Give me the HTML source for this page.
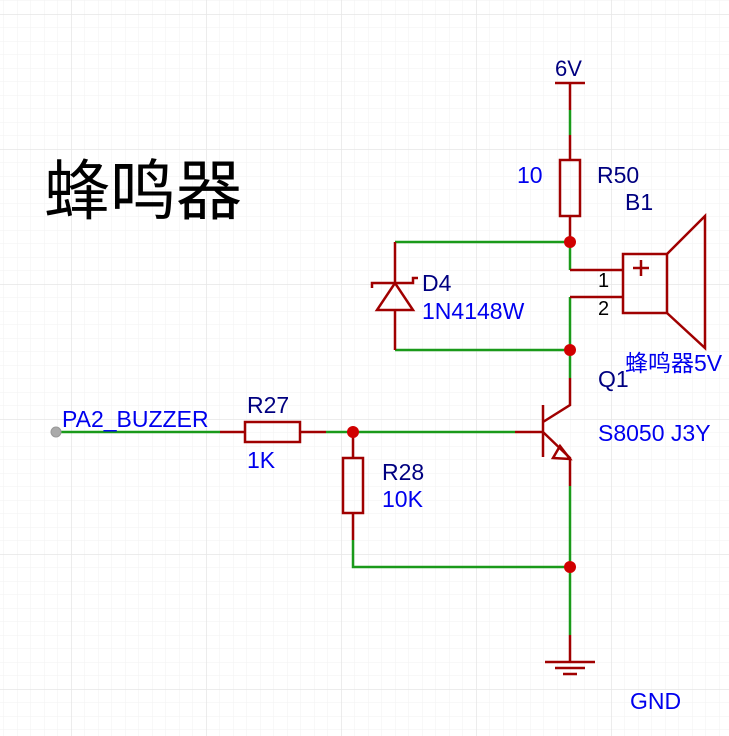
<!DOCTYPE html>
<html><head><meta charset="utf-8"><style>
html,body{margin:0;padding:0;background:#fff;}
svg{display:block}
text{font-family:"Liberation Sans","Noto Sans CJK SC",sans-serif;}
</style></head><body>
<svg width="729" height="736" viewBox="0 0 729 736" xmlns="http://www.w3.org/2000/svg">
<defs>
<pattern id="mi" x="3.5" y="0.5" width="13.5" height="13.5" patternUnits="userSpaceOnUse">
<path d="M0 0H13.5M0 0V13.5" stroke="#f2f2f2" stroke-width="1" fill="none"/>
</pattern>
<pattern id="ma" x="71" y="14" width="135" height="135" patternUnits="userSpaceOnUse">
<path d="M0 0H135M0 0V135" stroke="#e6e6e6" stroke-width="1.5" fill="none"/>
</pattern>
</defs>
<rect width="729" height="736" fill="url(#mi)"/>
<rect width="729" height="736" fill="url(#ma)"/>

<text x="44" y="214" font-size="66" fill="#000">蜂鸣器</text>

<g fill="none" stroke-width="2.5">
<g stroke="#1a9a1a">
<path d="M570 110V135"/>
<path d="M570 242V270"/>
<path d="M395 242H570"/>
<path d="M395 350H570"/>
<path d="M570 297V378"/>
<path d="M56 432H220"/>
<path d="M326 432H515"/>
<path d="M570 486V635"/>
<path d="M353 540V567H570"/>
</g>
<g stroke="#a00000">
<path d="M555 83H585"/>
<path d="M570 83V110M570 135V160M570 216V242"/>
<rect x="560" y="160" width="20" height="56"/>
<path d="M570 270H623M570 297H623"/>
<rect x="623" y="254" width="44" height="59"/>
<path d="M667 254L705 216V348L667 313"/>
<path d="M633 268H649M641 260V276"/>
<path d="M395 242V283M395 310V350"/>
<path d="M377 310H413L395 283Z"/>
<path d="M372 288V283H413V278H418"/>
<path d="M220 432H245M300 432H326"/>
<rect x="245" y="422" width="55" height="20"/>
<path d="M353 432V458M353 513V540"/>
<rect x="343" y="458" width="20" height="55"/>
<path d="M515 432H543M543 405V457M543 422L570 405V378M543 432L570 458V486"/>
<path d="M553 458L570 459L560 446Z"/>
<path d="M570 635V662M545 662H595M555 668H585M563 674H577"/>
</g>
</g>
<g fill="#d00000">
<circle cx="570" cy="242" r="6"/>
<circle cx="570" cy="350" r="6"/>
<circle cx="353" cy="432" r="6"/>
<circle cx="570" cy="567" r="6"/>
</g>
<circle cx="56" cy="432" r="5" fill="#aaa" stroke="#999"/>

<g font-size="23">
<text x="555" y="76" fill="#000080" font-size="22">6V</text>
<text x="517" y="183" fill="#0000ee">10</text>
<text x="597" y="183" fill="#000080">R50</text>
<text x="625" y="210" fill="#000080">B1</text>
<text x="422" y="291" fill="#000080">D4</text>
<text x="422" y="319" fill="#0000ee">1N4148W</text>
<text x="598" y="287" fill="#000" font-size="20">1</text>
<text x="598" y="315" fill="#000" font-size="20">2</text>
<text x="625" y="371" fill="#0000ee" font-size="23">蜂鸣器5V</text>
<text x="598" y="387" fill="#000080">Q1</text>
<text x="598" y="441" fill="#0000ee">S8050 J3Y</text>
<text x="62" y="427" fill="#0000ee">PA2_BUZZER</text>
<text x="247" y="413" fill="#000080">R27</text>
<text x="247" y="468" fill="#0000ee">1K</text>
<text x="382" y="480" fill="#000080">R28</text>
<text x="382" y="507" fill="#0000ee">10K</text>
<text x="630" y="709" fill="#0000ee">GND</text>
</g>
</svg>
</body></html>
